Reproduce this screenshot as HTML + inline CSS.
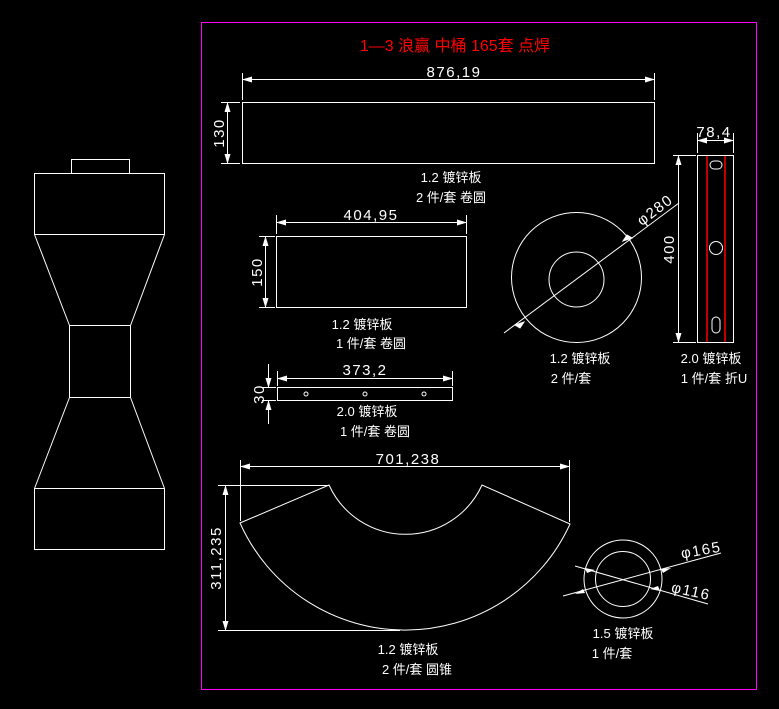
<!DOCTYPE html>
<html><head><meta charset="utf-8"><style>
html,body{margin:0;padding:0;background:#000;}
svg{display:block}
text{font-family:"Liberation Sans","Noto Sans CJK SC",sans-serif;fill:#fff;font-size:13px}
.d{font-size:15px;letter-spacing:1.5px}
</style></head><body>
<svg width="779" height="709" viewBox="0 0 779 709" xmlns="http://www.w3.org/2000/svg">
<defs>
<marker id="a" markerWidth="10" markerHeight="6" refX="9" refY="3" orient="auto-start-reverse" markerUnits="userSpaceOnUse"><path d="M0,0 L10,3 L0,6 z" fill="#fff"/></marker>
</defs>
<g fill="none" stroke="#fff" stroke-width="1">
<rect x="71.5" y="159.5" width="58" height="14"/>
<rect x="34.5" y="173.5" width="130" height="61"/>
<path d="M34.5,234.5 L69.5,325.5 M164.5,234.5 L130.5,325.5"/>
<rect x="69.5" y="325.5" width="61" height="72"/>
<path d="M69.5,397.5 L34.5,488.5 M130.5,397.5 L164.5,488.5"/>
<rect x="34.5" y="488.5" width="130" height="61"/>
</g>
<rect x="201.5" y="22.5" width="555" height="667" fill="none" stroke="#ff00ff" stroke-width="1"/>
<text x="455" y="51" text-anchor="middle" style="fill:#ff0000;font-size:16px">1—3 浪赢 中桶 165套 点焊</text>
<g fill="none" stroke="#fff" stroke-width="1">
<rect x="242.5" y="102.5" width="412" height="61"/>
<line x1="242.5" y1="73" x2="242.5" y2="100"/><line x1="654.5" y1="73" x2="654.5" y2="100"/>
<line x1="243" y1="79.5" x2="654" y2="79.5" marker-start="url(#a)" marker-end="url(#a)"/>
<line x1="221" y1="102.5" x2="240" y2="102.5"/><line x1="221" y1="163.5" x2="240" y2="163.5"/>
<line x1="227.5" y1="103" x2="227.5" y2="163" marker-start="url(#a)" marker-end="url(#a)"/>
<rect x="276.5" y="236.5" width="190" height="71"/>
<line x1="276.5" y1="215" x2="276.5" y2="234"/><line x1="466.5" y1="215" x2="466.5" y2="234"/>
<line x1="277" y1="222.5" x2="466" y2="222.5" marker-start="url(#a)" marker-end="url(#a)"/>
<line x1="259" y1="236.5" x2="275" y2="236.5"/><line x1="259" y1="307.5" x2="275" y2="307.5"/>
<line x1="265.5" y1="237" x2="265.5" y2="307" marker-start="url(#a)" marker-end="url(#a)"/>
<circle cx="576.5" cy="277.5" r="65"/>
<circle cx="576.5" cy="279.5" r="27.5"/>
<line x1="504" y1="333" x2="679" y2="203"/>
<path d="M515,325 l9,-3 l-4,6z M632,238 l-9,3 l4,-6z" fill="#fff"/>
<rect x="697.5" y="155.5" width="36" height="187"/>
<line x1="697.5" y1="133" x2="697.5" y2="153"/><line x1="733.5" y1="133" x2="733.5" y2="153"/>
<line x1="698" y1="140.5" x2="733" y2="140.5" marker-start="url(#a)" marker-end="url(#a)"/>
<line x1="673" y1="155.5" x2="696" y2="155.5"/><line x1="673" y1="342.5" x2="696" y2="342.5"/>
<line x1="678.5" y1="156" x2="678.5" y2="342" marker-start="url(#a)" marker-end="url(#a)"/>
<rect x="277.5" y="387.5" width="175" height="13"/>
<circle cx="306" cy="394" r="2"/><circle cx="365" cy="394" r="2"/><circle cx="424" cy="394" r="2"/>
<line x1="277.5" y1="371" x2="277.5" y2="386"/><line x1="452.5" y1="371" x2="452.5" y2="386"/>
<line x1="278" y1="378.5" x2="452" y2="378.5" marker-start="url(#a)" marker-end="url(#a)"/>
<line x1="262" y1="387.5" x2="276" y2="387.5"/><line x1="262" y1="400.5" x2="276" y2="400.5"/>
<line x1="268.5" y1="364" x2="268.5" y2="387" marker-end="url(#a)"/>
<line x1="268.5" y1="424" x2="268.5" y2="401" marker-end="url(#a)"/>
<path d="M240,523 L329,485 A84,84 0 0 0 482,485 L570,524 A181,181 0 0 1 240,523 Z"/>
<line x1="240.5" y1="460" x2="240.5" y2="521"/><line x1="569.5" y1="460" x2="569.5" y2="522"/>
<line x1="241" y1="466.5" x2="569" y2="466.5" marker-start="url(#a)" marker-end="url(#a)"/>
<line x1="218" y1="485.5" x2="329" y2="485.5"/><line x1="218" y1="630.5" x2="400" y2="630.5"/>
<line x1="225.5" y1="486" x2="225.5" y2="630" marker-start="url(#a)" marker-end="url(#a)"/>
<circle cx="623" cy="579" r="39"/>
<circle cx="623" cy="579" r="27.5"/>
<line x1="563" y1="596" x2="721" y2="553"/>
<line x1="575" y1="566" x2="708" y2="604"/>
</g>
<path d="M585,593 l-10,1 l8,-5z M661,569 l10,-1 l-8,5z M595,570 l-10,-2 l2,5z M650,589 l10,2 l-2,-5z" fill="#fff"/>
<text class="d" x="454" y="77" text-anchor="middle">876,19</text>
<text class="d" transform="translate(224,133) rotate(-90)" text-anchor="middle">130</text>
<text x="451" y="182" text-anchor="middle">1.2 镀锌板</text>
<text x="451" y="202" text-anchor="middle">2 件/套 卷圆</text>
<text class="d" x="371" y="220" text-anchor="middle">404,95</text>
<text class="d" transform="translate(262,272) rotate(-90)" text-anchor="middle">150</text>
<text x="362" y="329" text-anchor="middle">1.2 镀锌板</text>
<text x="371" y="348" text-anchor="middle">1 件/套 卷圆</text>
<text class="d" transform="translate(658,214) rotate(-37)" text-anchor="middle">φ280</text>
<text class="d" transform="translate(674,249) rotate(-90)" text-anchor="middle">400</text>
<text class="d" x="714" y="137" text-anchor="middle">78,4</text>
<text x="580" y="363" text-anchor="middle">1.2 镀锌板</text>
<text x="571" y="383" text-anchor="middle">2 件/套</text>
<text x="711" y="363" text-anchor="middle">2.0 镀锌板</text>
<text x="714" y="383" text-anchor="middle">1 件/套 折U</text>
<text class="d" x="365" y="375" text-anchor="middle">373,2</text>
<text class="d" transform="translate(264,394) rotate(-90)" text-anchor="middle">30</text>
<text x="367" y="416" text-anchor="middle">2.0 镀锌板</text>
<text x="375" y="436" text-anchor="middle">1 件/套 卷圆</text>
<text class="d" x="408" y="464" text-anchor="middle">701,238</text>
<text class="d" transform="translate(221,558) rotate(-90)" text-anchor="middle">311,235</text>
<text x="408" y="654" text-anchor="middle">1.2 镀锌板</text>
<text x="417" y="674" text-anchor="middle">2 件/套 圆锥</text>
<text class="d" transform="translate(702,555) rotate(-10)" text-anchor="middle">φ165</text>
<text class="d" transform="translate(690,596) rotate(12)" text-anchor="middle">φ116</text>
<text x="623" y="638" text-anchor="middle">1.5 镀锌板</text>
<text x="612" y="658" text-anchor="middle">1 件/套</text>
<g stroke="#ff0000" stroke-width="1.5">
<line x1="707" y1="156" x2="707" y2="342"/><line x1="725" y1="156" x2="725" y2="342"/>
</g>
<g fill="none" stroke="#fff"><rect x="710" y="161" width="12" height="8" rx="4"/><circle cx="716" cy="248" r="6.5"/><rect x="712" y="317" width="8" height="16" rx="4"/></g>
</svg>
</body></html>
